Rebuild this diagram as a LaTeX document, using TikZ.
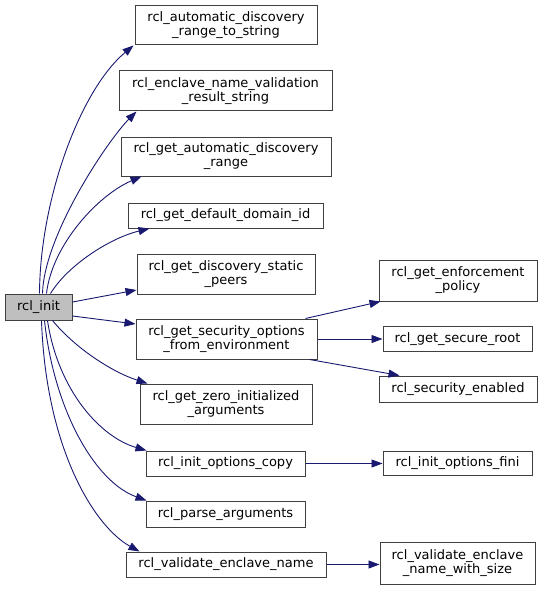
\documentclass[tikz,border=0pt]{standalone}
\usepackage{fontspec}
\setmainfont{DejaVu Sans}
\usetikzlibrary{arrows.meta,calc}
\definecolor{edgeblue}{HTML}{191970}
\definecolor{rootgray}{HTML}{BFBFBF}
\begin{document}
\begin{tikzpicture}[x=1pt,y=-1pt,
        fn/.style={draw=black!75,line width=1pt,fill=white,inner sep=0pt,align=center,
                font=\fontsize{13}{14}\selectfont},
        call/.style={draw=edgeblue,line width=0.9pt,-{Triangle[length=11pt,width=8pt]}}]
        \useasboundingbox (0,0) rectangle (541,591);

        \node[fn,fill=rootgray,minimum width=67pt,minimum height=26pt] (init) at (38.5,307) {rcl\_init};

        \node[fn,minimum width=182pt,minimum height=39pt] (range) at (226,25.5) {rcl\_automatic\_discovery\\\_range\_to\_string};
        \node[fn,minimum width=213pt,minimum height=40pt] (encl) at (225.5,91) {rcl\_enclave\_name\_validation\\\_result\_string};
        \node[fn,minimum width=210pt,minimum height=39pt] (autorange) at (226,156.5) {rcl\_get\_automatic\_discovery\\\_range};
        \node[fn,minimum width=195pt,minimum height=25pt] (domain) at (225.5,215.5) {rcl\_get\_default\_domain\_id};
        \node[fn,minimum width=178pt,minimum height=40pt] (peers) at (226,274) {rcl\_get\_discovery\_static\\\_peers};
        \node[fn,minimum width=181pt,minimum height=40pt] (secopt) at (226.5,339) {rcl\_get\_security\_options\\\_from\_environment};
        \node[fn,minimum width=172pt,minimum height=40pt] (zero) at (226,404) {rcl\_get\_zero\_initialized\\\_arguments};
        \node[fn,minimum width=159pt,minimum height=25pt] (copy) at (225.5,463.5) {rcl\_init\_options\_copy};
        \node[fn,minimum width=159pt,minimum height=26pt] (parse) at (225.5,514) {rcl\_parse\_arguments};
        \node[fn,minimum width=200pt,minimum height=25pt] (validate) at (226,564.5) {rcl\_validate\_enclave\_name};

        \node[fn,minimum width=158pt,minimum height=41pt] (enforce) at (458,280.5) {rcl\_get\_enforcement\\\_policy};
        \node[fn,minimum width=149pt,minimum height=25pt] (root) at (457.5,339) {rcl\_get\_secure\_root};
        \node[fn,minimum width=158pt,minimum height=26pt] (enabled) at (458,389) {rcl\_security\_enabled};
        \node[fn,minimum width=149pt,minimum height=24pt] (fini) at (457.5,463.5) {rcl\_init\_options\_fini};
        \node[fn,minimum width=155pt,minimum height=42pt] (withsize) at (457.5,563) {rcl\_validate\_enclave\\\_name\_with\_size};

        \draw[call] ($(init.north west)+(35,0)$) .. controls (40,200) and (80,90) .. ($(range.south west)+(-1,0)$);
        \draw[call] ($(init.north west)+(38,0)$) .. controls (44,235) and (108,140) .. ($(encl.south west)+(18,0)$);
        \draw[call] ($(init.north west)+(42,0)$) .. controls (52,245) and (98,195) .. ($(autorange.south west)+(21,0)$);
        \draw[call] ($(init.north west)+(46,0)$) .. controls (68,265) and (110,238) .. ($(domain.south west)+(22,0)$);
        \draw[call] ($(init.east)+(0,-5)$) -- ($(peers.west)+(0,16)$);
        \draw[call] ($(init.east)+(0,9)$) -- ($(secopt.west)+(0,-15)$);
        \draw[call] ($(init.south west)+(48,0)$) .. controls (75,348) and (112,372) .. ($(zero.north west)+(8,0)$);
        \draw[call] ($(init.south west)+(43,0)$) .. controls (58,390) and (100,437) .. ($(copy.north west)+(1,0)$);
        \draw[call] ($(init.south west)+(40,0)$) .. controls (54,410) and (95,482) .. ($(parse.north west)+(1,0)$);
        \draw[call] ($(init.south west)+(37,0)$) .. controls (46,450) and (95,527) .. ($(validate.north west)+(14,0)$);

        \draw[call] ($(secopt.north east)+(-12,0)$) -- ($(enforce.south west)+(2,0)$);
        \draw[call] (secopt.east) -- (root.west);
        \draw[call] ($(secopt.south east)+(-8,0)$) -- ($(enabled.north west)+(21,0)$);
        \draw[call] (copy.east) -- (fini.west);
        \draw[call] (validate.east) -- (validate.east -| withsize.west);
\end{tikzpicture}
\end{document}
